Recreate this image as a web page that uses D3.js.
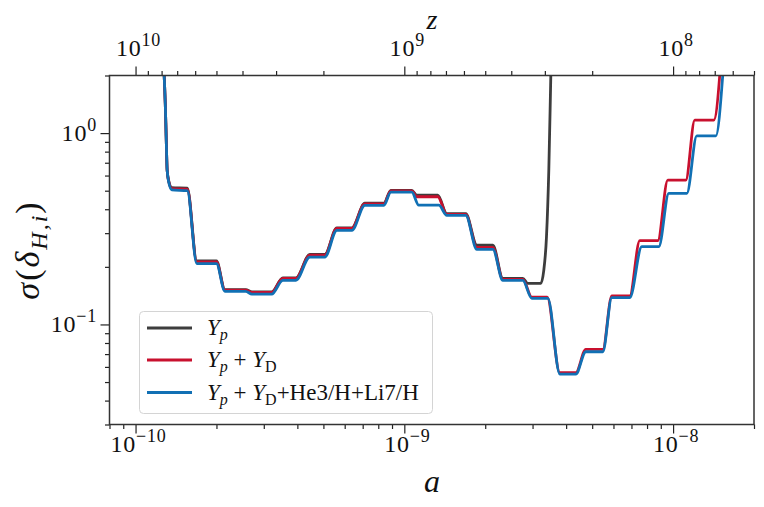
<!DOCTYPE html>
<html lang="en">
  <head>
    <meta charset="utf-8">
    <title>sigma vs a</title>
    <script src="https://cdn.jsdelivr.net/npm/d3@7"></script>
    <style>
      body { margin: 0; background: #fff; }
      text { font-family: "Liberation Serif", "DejaVu Serif", serif; fill: #111; }
      .it { font-style: italic; }
    </style>
  </head>
  <body>
    <script>
    // values

    // Y_p (black)
    var aBlack = [1.26e-10, 1.278e-10, 1.29e-10, 1.30e-10, 1.311e-10, 1.33e-10, 1.365e-10, 1.558e-10,
                  1.69e-10, 2.0e-10, 2.15e-10, 2.57e-10, 2.71e-10, 3.21e-10, 3.53e-10, 3.95e-10,
                  4.45e-10, 5.06e-10, 5.61e-10, 6.38e-10, 7.13e-10, 8.39e-10, 8.91e-10, 1.066e-9,
                  1.113e-9, 1.332e-9, 1.439e-9, 1.693e-9, 1.861e-9, 2.135e-9, 2.326e-9, 2.76e-9,
                  2.88e-9, 3.22e-9, 3.30e-9, 3.38e-9, 3.448e-9, 3.508e-9, 3.53e-9];
    var sBlack = [3.0, 2.0, 1.43, 0.96, 0.64, 0.56, 0.518, 0.515,
                  0.215, 0.215, 0.152, 0.152, 0.148, 0.148, 0.175, 0.175,
                  0.232, 0.232, 0.32, 0.32, 0.43, 0.43, 0.502, 0.502,
                  0.474, 0.474, 0.379, 0.379, 0.26, 0.26, 0.174, 0.174,
                  0.164, 0.164, 0.19, 0.287, 0.64, 2.0, 3.0];

    // Y_p + Y_D (red)
    var aRed = [1.26e-10, 1.278e-10, 1.29e-10, 1.30e-10, 1.311e-10, 1.33e-10, 1.365e-10, 1.558e-10,
                1.69e-10, 2.0e-10, 2.15e-10, 2.57e-10, 2.71e-10, 3.21e-10, 3.53e-10, 3.95e-10,
                4.45e-10, 5.06e-10, 5.61e-10, 6.38e-10, 7.13e-10, 8.39e-10, 8.91e-10, 1.066e-9,
                1.113e-9, 1.332e-9, 1.439e-9, 1.693e-9, 1.861e-9, 2.135e-9, 2.326e-9, 2.76e-9,
                2.98e-9, 3.40e-9, 3.79e-9, 4.345e-9, 4.734e-9, 5.477e-9, 5.915e-9, 6.9e-9,
                7.518e-9, 8.772e-9, 9.556e-9, 1.115e-8, 1.204e-8, 1.417e-8, 1.491e-8, 1.52e-8];
    var sRed = [3.0, 2.0, 1.43, 0.96, 0.64, 0.555, 0.513, 0.51,
                0.212, 0.212, 0.151, 0.151, 0.147, 0.147, 0.174, 0.174,
                0.230, 0.230, 0.318, 0.318, 0.427, 0.427, 0.499, 0.499,
                0.465, 0.465, 0.376, 0.376, 0.253, 0.253, 0.172, 0.172,
                0.139, 0.139, 0.056, 0.056, 0.074, 0.074, 0.141, 0.141,
                0.274, 0.274, 0.568, 0.568, 1.17, 1.17, 2.0, 3.0];

    // Y_p + Y_D + He3/H + Li7/H (blue)
    var aBlue = [1.26e-10, 1.278e-10, 1.29e-10, 1.30e-10, 1.311e-10, 1.33e-10, 1.365e-10, 1.558e-10,
                 1.69e-10, 2.0e-10, 2.15e-10, 2.57e-10, 2.71e-10, 3.21e-10, 3.53e-10, 3.95e-10,
                 4.45e-10, 5.06e-10, 5.61e-10, 6.38e-10, 7.13e-10, 8.39e-10, 8.91e-10, 1.066e-9,
                 1.132e-9, 1.344e-9, 1.439e-9, 1.693e-9, 1.861e-9, 2.135e-9, 2.326e-9, 2.76e-9,
                 2.98e-9, 3.42e-9, 3.79e-9, 4.345e-9, 4.734e-9, 5.477e-9, 5.915e-9, 6.9e-9,
                 7.648e-9, 8.848e-9, 9.638e-9, 1.125e-8, 1.225e-8, 1.442e-8, 1.53e-8, 1.56e-8];
    var sBlue = [3.0, 2.0, 1.43, 0.96, 0.64, 0.55, 0.505, 0.50,
                 0.208, 0.208, 0.149, 0.149, 0.144, 0.144, 0.170, 0.170,
                 0.225, 0.225, 0.310, 0.310, 0.419, 0.419, 0.491, 0.491,
                 0.420, 0.420, 0.372, 0.372, 0.247, 0.247, 0.170, 0.170,
                 0.137, 0.137, 0.055, 0.055, 0.072, 0.072, 0.138, 0.138,
                 0.255, 0.255, 0.484, 0.484, 0.968, 0.968, 2.0, 3.0];

    var seriesColors = ["#3d3d3d", "#c8102e", "#1170b4"];
    // legend pieces: [text, italic, role]  role: "" normal, "sub" subscript
    var legendParts = [
      [["Y", true, ""], ["p", true, "sub"]],
      [["Y", true, ""], ["p", true, "sub"], [" + ", false, ""], ["Y", true, ""], ["D", false, "sub"]],
      [["Y", true, ""], ["p", true, "sub"], [" + ", false, ""], ["Y", true, ""], ["D", false, "sub"],
       ["+He3/H+Li7/H", false, ""]]
    ];

    var aMajor = [1e-10, 1e-9, 1e-8];
    var aMajorExp = ["\u221210", "\u22129", "\u22128"];
    var zMajor = [1e10, 1e9, 1e8];
    var zMajorExp = ["10", "9", "8"];
    var sMajor = [1, 0.1];
    var sMajorExp = ["0", "\u22121"];

    var w = 764;
    var h = 507;
    var pLeft = 109.5, pRight = 754, pTop = 75.5, pBottom = 424.5;

    var svg = d3.select("body")
                .append("svg")
                .attr("width", w)
                .attr("height", h);

    var x = d3.scaleLog().domain([8e-11, 2e-8]).range([pLeft, pRight]);
    var xz = d3.scaleLog().domain([1 / 8e-11, 1 / 2e-8]).range([pLeft, pRight]);
    var y = d3.scaleLog().domain([0.03, 2]).range([pBottom, pTop]);

    // minor tick lists (2..9 times each decade inside the range)
    var minors = function(lo, hi) {
      var out = [];
      for (var e = Math.floor(Math.log10(lo)); e <= Math.ceil(Math.log10(hi)); e++) {
        for (var m = 2; m < 10; m++) {
          var v = m * Math.pow(10, e);
          if (v >= lo * 0.999 && v <= hi * 1.001) out.push(v);
        }
      }
      return out;
    };
    var aMinor = minors(8e-11, 2e-8);
    var zMinor = minors(5e7, 1.25e10);
    var sMinor = minors(0.03, 2);

    svg.append("clipPath").attr("id", "clip")
       .append("rect")
       .attr("x", pLeft).attr("y", pTop)
       .attr("width", pRight - pLeft).attr("height", pBottom - pTop);

    var line = d3.line()
                 .x(function(d) { return x(d[0]); })
                 .y(function(d) { return y(d[1]); })
                 .curve(d3.curveMonotoneX);

    var series = [d3.zip(aBlack, sBlack), d3.zip(aRed, sRed), d3.zip(aBlue, sBlue)];

    svg.append("g").attr("clip-path", "url(#clip)")
       .selectAll("path")
       .data(series)
       .enter()
       .append("path")
       .attr("d", line)
       .attr("fill", "none")
       .attr("stroke", function(d, i) { return seriesColors[i]; })
       .attr("stroke-width", 2.8)
       .attr("stroke-linejoin", "round");

    // axes
    var styleAxis = function(g) {
      g.select(".domain").remove();
      g.selectAll("line").attr("stroke", "#222").attr("stroke-width", 1.2);
    };

    svg.append("g").attr("transform", "translate(0," + pBottom + ")")
       .call(d3.axisBottom(x).tickValues(aMajor).tickSize(9).tickFormat(""))
       .call(styleAxis);
    svg.append("g").attr("transform", "translate(0," + pBottom + ")")
       .call(d3.axisBottom(x).tickValues(aMinor).tickSize(4.5).tickFormat(""))
       .call(styleAxis);
    svg.append("g").attr("transform", "translate(0," + pTop + ")")
       .call(d3.axisTop(xz).tickValues(zMajor).tickSize(9).tickFormat(""))
       .call(styleAxis);
    svg.append("g").attr("transform", "translate(0," + pTop + ")")
       .call(d3.axisTop(xz).tickValues(zMinor).tickSize(4.5).tickFormat(""))
       .call(styleAxis);
    svg.append("g").attr("transform", "translate(" + pLeft + ",0)")
       .call(d3.axisLeft(y).tickValues(sMajor).tickSize(9).tickFormat(""))
       .call(styleAxis);
    svg.append("g").attr("transform", "translate(" + pLeft + ",0)")
       .call(d3.axisLeft(y).tickValues(sMinor).tickSize(4.5).tickFormat(""))
       .call(styleAxis);

    // frame
    svg.append("rect")
       .attr("x", pLeft).attr("y", pTop)
       .attr("width", pRight - pLeft).attr("height", pBottom - pTop)
       .attr("fill", "none").attr("stroke", "#333").attr("stroke-width", 1.5);

    // power-of-ten labels
    var powLabel = function(sel, anchor) {
      sel.attr("text-anchor", anchor).attr("font-size", 24).attr("letter-spacing", 0.8);
      sel.append("tspan").text("10");
      sel.append("tspan").attr("dy", -10).attr("font-size", 18)
         .text(function(d) { return d.exp; });
    };

    svg.selectAll(".alab")
       .data(aMajor.map(function(v, i) { return {v: v, exp: aMajorExp[i]}; }))
       .enter().append("text")
       .attr("x", function(d) { return x(d.v) + 3; })
       .attr("y", 452)
       .call(powLabel, "middle");

    svg.selectAll(".zlab")
       .data(zMajor.map(function(v, i) { return {v: v, exp: zMajorExp[i]}; }))
       .enter().append("text")
       .attr("x", function(d) { return xz(d.v) + 3; })
       .attr("y", 56)
       .call(powLabel, "middle");

    svg.selectAll(".slab")
       .data(sMajor.map(function(v, i) { return {v: v, exp: sMajorExp[i]}; }))
       .enter().append("text")
       .attr("x", 97)
       .attr("y", function(d) { return y(d.v) + 8; })
       .call(powLabel, "end");

    // axis titles
    svg.append("text").attr("class", "it")
       .attr("x", 432).attr("y", 492).attr("text-anchor", "middle")
       .attr("font-size", 32).text("a");
    svg.append("text").attr("class", "it")
       .attr("x", 432).attr("y", 29).attr("text-anchor", "middle")
       .attr("font-size", 28).text("z");

    var ylab = svg.append("text")
       .attr("transform", "translate(39,250) rotate(-90)")
       .attr("text-anchor", "middle").attr("font-size", 34)
       .attr("letter-spacing", 2);
    ylab.append("tspan").attr("class", "it").text("\u03c3");
    ylab.append("tspan").text("(");
    ylab.append("tspan").attr("class", "it").text("\u03b4");
    ylab.append("tspan").attr("class", "it").attr("dy", 8).attr("font-size", 24).text("H,i");
    ylab.append("tspan").attr("dy", -8).text(")");

    // legend
    var lg = svg.append("g");
    lg.append("rect")
      .attr("x", 139.5).attr("y", 311.5).attr("width", 293).attr("height", 102)
      .attr("rx", 4).attr("fill", "#fff").attr("fill-opacity", 0.8)
      .attr("stroke", "#d4d4d4").attr("stroke-width", 1);

    var legY = [328, 360, 392.5];
    lg.selectAll("line.leg")
      .data(legendParts)
      .enter().append("line")
      .attr("x1", 147).attr("x2", 192)
      .attr("y1", function(d, i) { return legY[i]; })
      .attr("y2", function(d, i) { return legY[i]; })
      .attr("stroke", function(d, i) { return seriesColors[i]; })
      .attr("stroke-width", 2.8);

    lg.selectAll("text.leg")
      .data(legendParts)
      .enter().append("text")
      .attr("x", 207)
      .attr("y", function(d, i) { return legY[i] + 7; })
      .attr("font-size", 23)
      .each(function(parts) {
        var t = d3.select(this);
        var shift = 0;
        parts.forEach(function(p) {
          var want = p[2] == "sub" ? 5 : 0;
          var ts = t.append("tspan").text(p[0]).attr("dy", want - shift);
          shift = want;
          if (p[1]) ts.attr("class", "it");
          if (p[2] == "sub") ts.attr("font-size", 16);
        });
      });
    </script>
  </body>
</html>
